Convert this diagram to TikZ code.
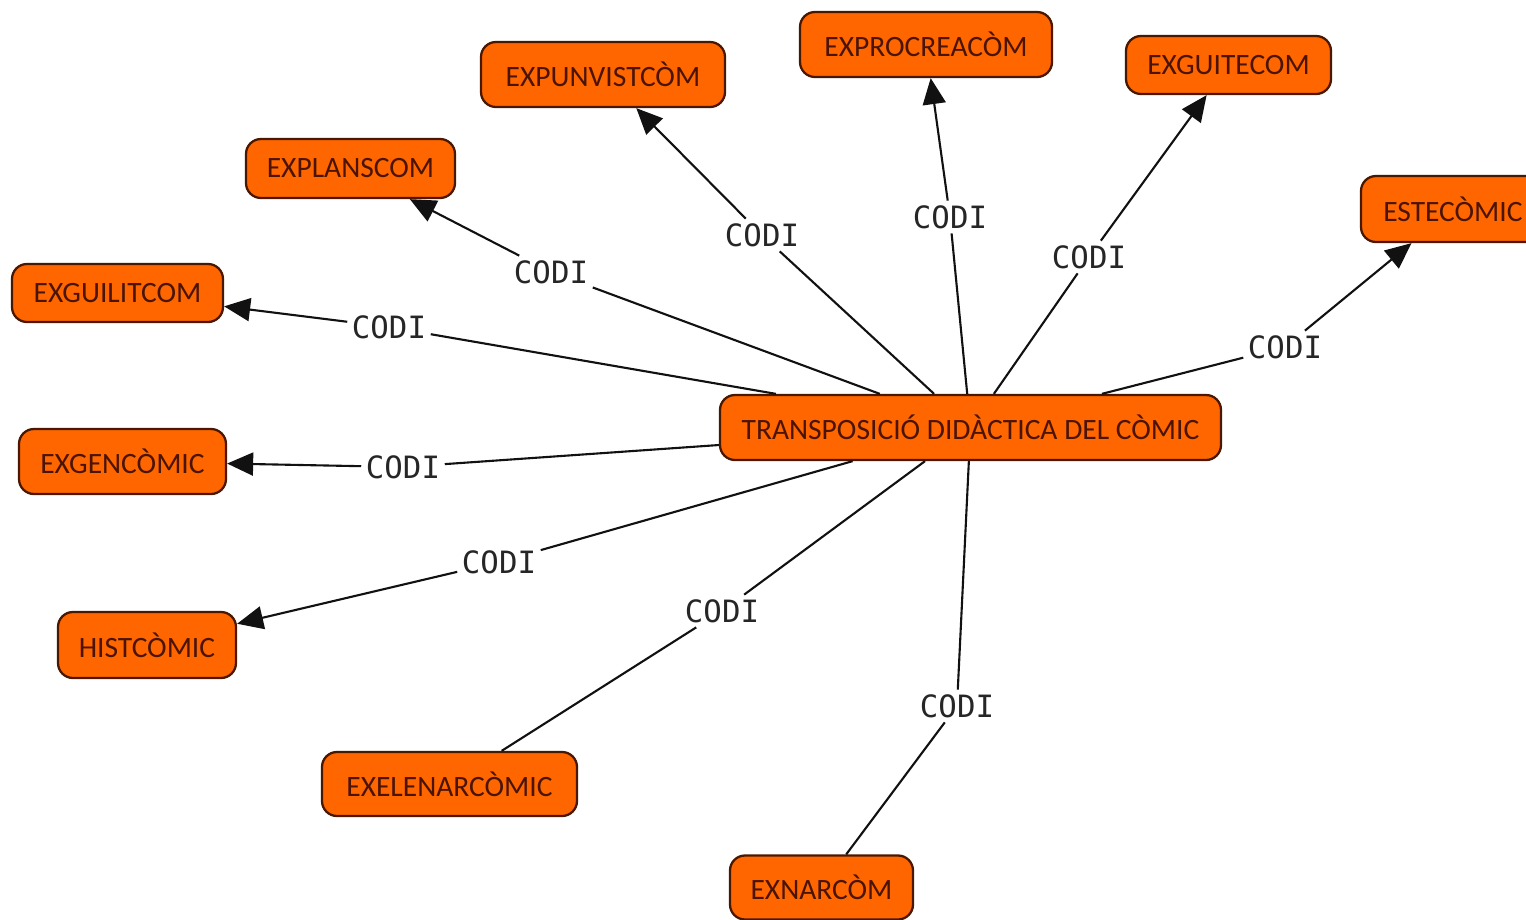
\documentclass[tikz,border=0pt]{standalone}
\usepackage{fontspec}
\setmainfont{Carlito}
\newfontfamily\codifont{DejaVu Sans Mono}
\usetikzlibrary{arrows.meta}
\definecolor{boxfill}{HTML}{FF6600}
\definecolor{boxedge}{HTML}{4A1800}
\definecolor{boxtext}{HTML}{4A1400}
\definecolor{linkcol}{HTML}{111111}
\tikzset{
  concept/.style={draw=boxedge, line width=1.3pt, fill=boxfill, rounded corners=0.3cm,
    text=boxtext, font=\fontsize{16.8}{20}\selectfont, inner sep=0pt},
  linklabel/.style={font=\codifont\fontsize{17.5}{20}\selectfont, text=black!85, inner sep=2.5pt},
  link/.style={draw=linkcol, line width=1.2pt},
  arrowlink/.style={link, -{Triangle[length=0.52cm, width=0.46cm]}},
}
\begin{document}
\begin{tikzpicture}[x=0.02cm, y=-0.02cm]
\useasboundingbox (0,0) rectangle (1526,920);

% central concept
\node[concept, minimum width=501*0.02cm, minimum height=65*0.02cm] (T) at (970.5,427.5) {TRANSPOSICIÓ DIDÀCTICA DEL CÒMIC};

% surrounding concepts
\node[concept, minimum width=244*0.02cm, minimum height=65*0.02cm] (n1) at (603,74.5) {EXPUNVISTCÒM};
\node[concept, minimum width=252*0.02cm, minimum height=65*0.02cm] (n2) at (926,44.5) {EXPROCREACÒM};
\node[concept, minimum width=205*0.02cm, minimum height=58*0.02cm] (n3) at (1228.5,65) {EXGUITECOM};
\node[concept, minimum width=209*0.02cm, minimum height=59*0.02cm] (n4) at (350.5,168.5) {EXPLANSCOM};
\node[concept, minimum width=184*0.02cm, minimum height=66*0.02cm] (n5) at (1453,209) {ESTECÒMIC};
\node[concept, minimum width=211*0.02cm, minimum height=58*0.02cm] (n6) at (117.5,293) {EXGUILITCOM};
\node[concept, minimum width=207*0.02cm, minimum height=65*0.02cm] (n7) at (122.5,461.5) {EXGENCÒMIC};
\node[concept, minimum width=178*0.02cm, minimum height=66*0.02cm] (n8) at (147,645) {HISTCÒMIC};
\node[concept, minimum width=255*0.02cm, minimum height=64*0.02cm] (n9) at (449.5,784) {EXELENARCÒMIC};
\node[concept, minimum width=183*0.02cm, minimum height=64*0.02cm] (n10) at (821.5,887.5) {EXNARCÒM};

% link labels
\node[linklabel] (l1) at (762,235) {CODI};
\node[linklabel] (l2) at (950,217) {CODI};
\node[linklabel] (l3) at (1089,257) {CODI};
\node[linklabel] (l4) at (551,272) {CODI};
\node[linklabel] (l5) at (1285,347) {CODI};
\node[linklabel] (l6) at (389,327) {CODI};
\node[linklabel] (l7) at (403,467) {CODI};
\node[linklabel] (l8) at (499,562) {CODI};
\node[linklabel] (l9) at (722,611) {CODI};
\node[linklabel] (l10) at (957,706) {CODI};

% links from the central concept
\foreach \i in {1,...,10} {
  \draw[link] (T) -- (l\i);
}
\foreach \i in {1,...,8} {
  \draw[arrowlink] (l\i) -- (n\i);
}
\draw[link] (l9) -- (n9);
\draw[link] (l10) -- (n10);
\end{tikzpicture}
\end{document}
